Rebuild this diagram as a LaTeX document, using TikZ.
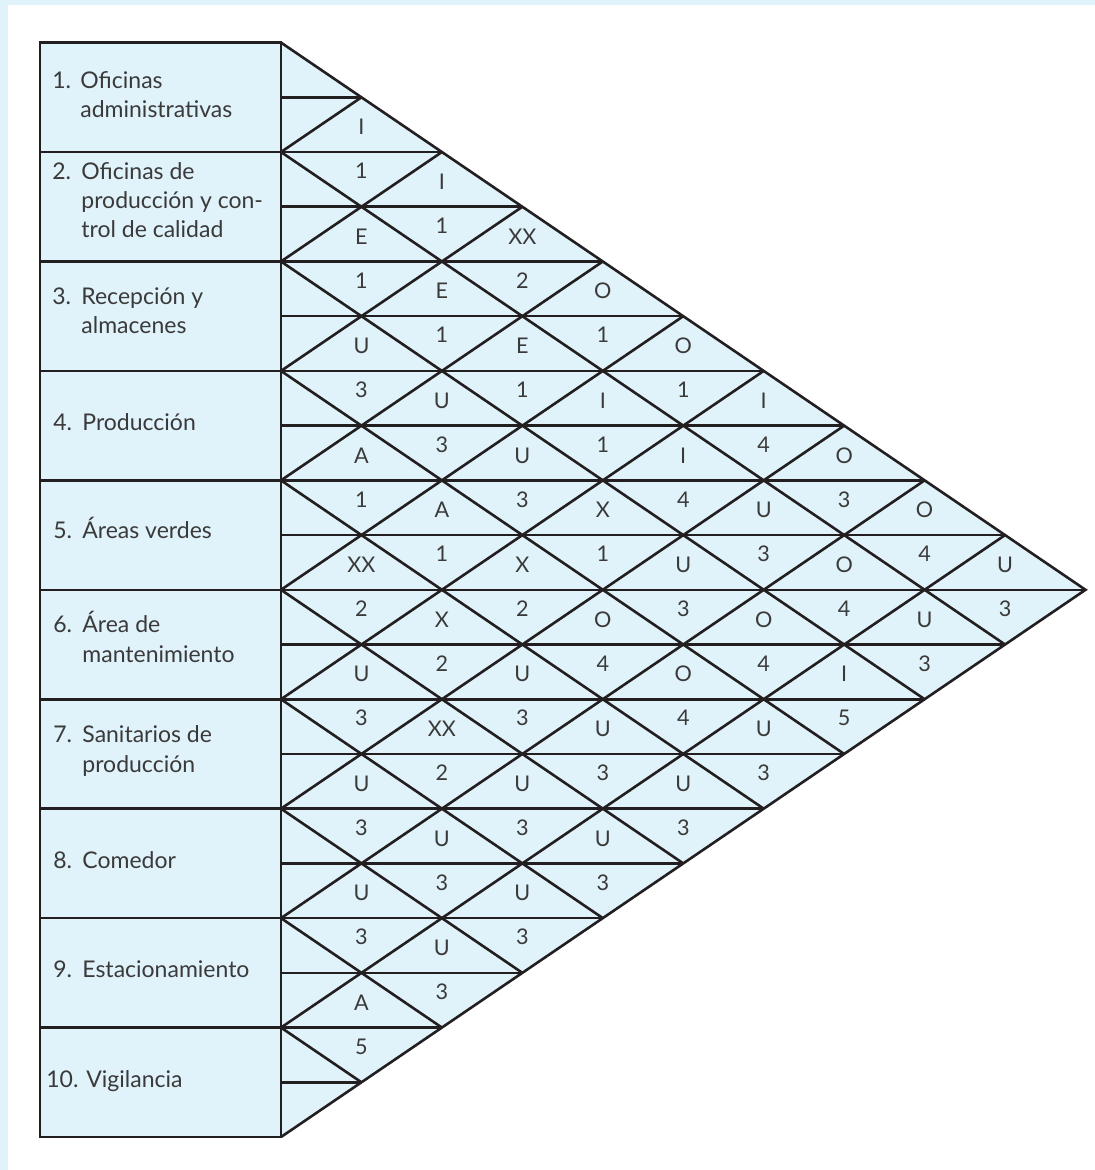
\documentclass[tikz,border=0pt]{standalone}
\usepackage{fontspec}
\setmainfont{Lato}
\definecolor{frameblue}{HTML}{E0F2FA}
\definecolor{cellblue}{HTML}{E0F2FA}
\definecolor{linecol}{HTML}{231F20}
\definecolor{txtcol}{HTML}{3A3A3A}
\begin{document}
\begin{tikzpicture}[x=0.5pt,y=-0.5pt,
  gridline/.style={draw=linecol,line width=1.3pt},
  boxstyle/.style={draw=linecol,fill=cellblue,line width=1.3pt},
  labtxt/.style={anchor=base west,inner sep=0pt,text=txtcol,font=\fontsize{11.5}{14}\selectfont},
  rl/.style={anchor=center,inner sep=0pt,text=txtcol,font=\fontsize{10.8}{13}\selectfont},
  rn/.style={anchor=center,inner sep=0pt,text=txtcol,font=\fontsize{10.8}{13}\selectfont}]
\useasboundingbox (0,0) rectangle (1095,1170);
\fill[frameblue] (0,0) rectangle (1095,1170);
\fill[white] (8.3,5) rectangle (1095,1170);
% triangle fill
\fill[cellblue] (281,42.6) -- (1085.5,589.8) -- (281,1137) -- cycle;
% left boxes
\foreach \k in {1,...,10}{
  \draw[boxstyle] (40,{42.6+109.44*(\k-1)}) rectangle (281,{42.6+109.44*\k});
}
% horizontal half-row lines
\foreach \m in {1,...,19}{
  \pgfmathsetmacro\e{min(\m,20-\m)}
  \draw[gridline] (281,{42.6+54.72*\m}) -- ({281+80.45*\e},{42.6+54.72*\m});
}
% diagonals
\foreach \k in {1,...,9}{
  \draw[gridline] (281,{42.6+109.44*\k}) -- ({281+80.45*(10-\k)},{42.6+109.44*\k+54.72*(10-\k)});
  \draw[gridline] (281,{42.6+109.44*\k}) -- ({281+80.45*\k},{42.6+109.44*\k-54.72*\k});
}
\draw[gridline,line join=miter] (281,42.6) -- (1085.5,589.8) -- (281,1137);
% row labels
\node[labtxt] (n1) at (52,89) {1.};
\node[labtxt] (t1a) at (80,89) {Oficinas};
\node[labtxt] (t1b) at (80,118) {administrativas};
\node[labtxt] (n2) at (52,180) {2.};
\node[labtxt] (t2a) at (81,180) {Oficinas de};
\node[labtxt] (t2b) at (81,209) {producción y con-};
\node[labtxt] (t2c) at (81,238) {trol de calidad};
\node[labtxt] (n3) at (52,305) {3.};
\node[labtxt] (t3a) at (81,305) {Recepción y};
\node[labtxt] (t3b) at (81,334) {almacenes};
\node[labtxt] (n4) at (53,430) {4.};
\node[labtxt] (t4a) at (82,430) {Producción};
\node[labtxt] (n5) at (53,538) {5.};
\node[labtxt] (t5a) at (82,538) {Áreas verdes};
\node[labtxt] (n6) at (53,632) {6.};
\node[labtxt] (t6a) at (82,632) {Área de};
\node[labtxt] (t6b) at (82,662) {mantenimiento};
\node[labtxt] (n7) at (53,742) {7.};
\node[labtxt] (t7a) at (82,742) {Sanitarios de};
\node[labtxt] (t7b) at (82,772) {producción};
\node[labtxt] (n8) at (53,868) {8.};
\node[labtxt] (t8a) at (82,868) {Comedor};
\node[labtxt] (n9) at (53,977) {9.};
\node[labtxt] (t9a) at (82,977) {Estacionamiento};
\node[labtxt] (n10) at (46,1087) {10.};
\node[labtxt] (t10a) at (86,1087) {Vigilancia};
% relationship ratings
\foreach \i/\j/\L/\N in {
 1/2/I/1, 1/3/I/1, 1/4/XX/2, 1/5/O/1, 1/6/O/1, 1/7/I/4, 1/8/O/3, 1/9/O/4, 1/10/U/3,
 2/3/E/1, 2/4/E/1, 2/5/E/1, 2/6/I/1, 2/7/I/4, 2/8/U/3, 2/9/O/4, 2/10/U/3,
 3/4/U/3, 3/5/U/3, 3/6/U/3, 3/7/X/1, 3/8/U/3, 3/9/O/4, 3/10/I/5,
 4/5/A/1, 4/6/A/1, 4/7/X/2, 4/8/O/4, 4/9/O/4, 4/10/U/3,
 5/6/XX/2, 5/7/X/2, 5/8/U/3, 5/9/U/3, 5/10/U/3,
 6/7/U/3, 6/8/XX/2, 6/9/U/3, 6/10/U/3,
 7/8/U/3, 7/9/U/3, 7/10/U/3,
 8/9/U/3, 8/10/U/3,
 9/10/A/5}{
  \pgfmathsetmacro\cx{281+80.45*(\j-\i)}
  \pgfmathsetmacro\cy{42.6+54.72*(\i+\j-1)}
  \node[rl] (L-\i-\j) at ({\cx},{\cy-25}) {\L};
  \node[rn] (N-\i-\j) at ({\cx},{\cy+19}) {\N};
}
\end{tikzpicture}
\end{document}
